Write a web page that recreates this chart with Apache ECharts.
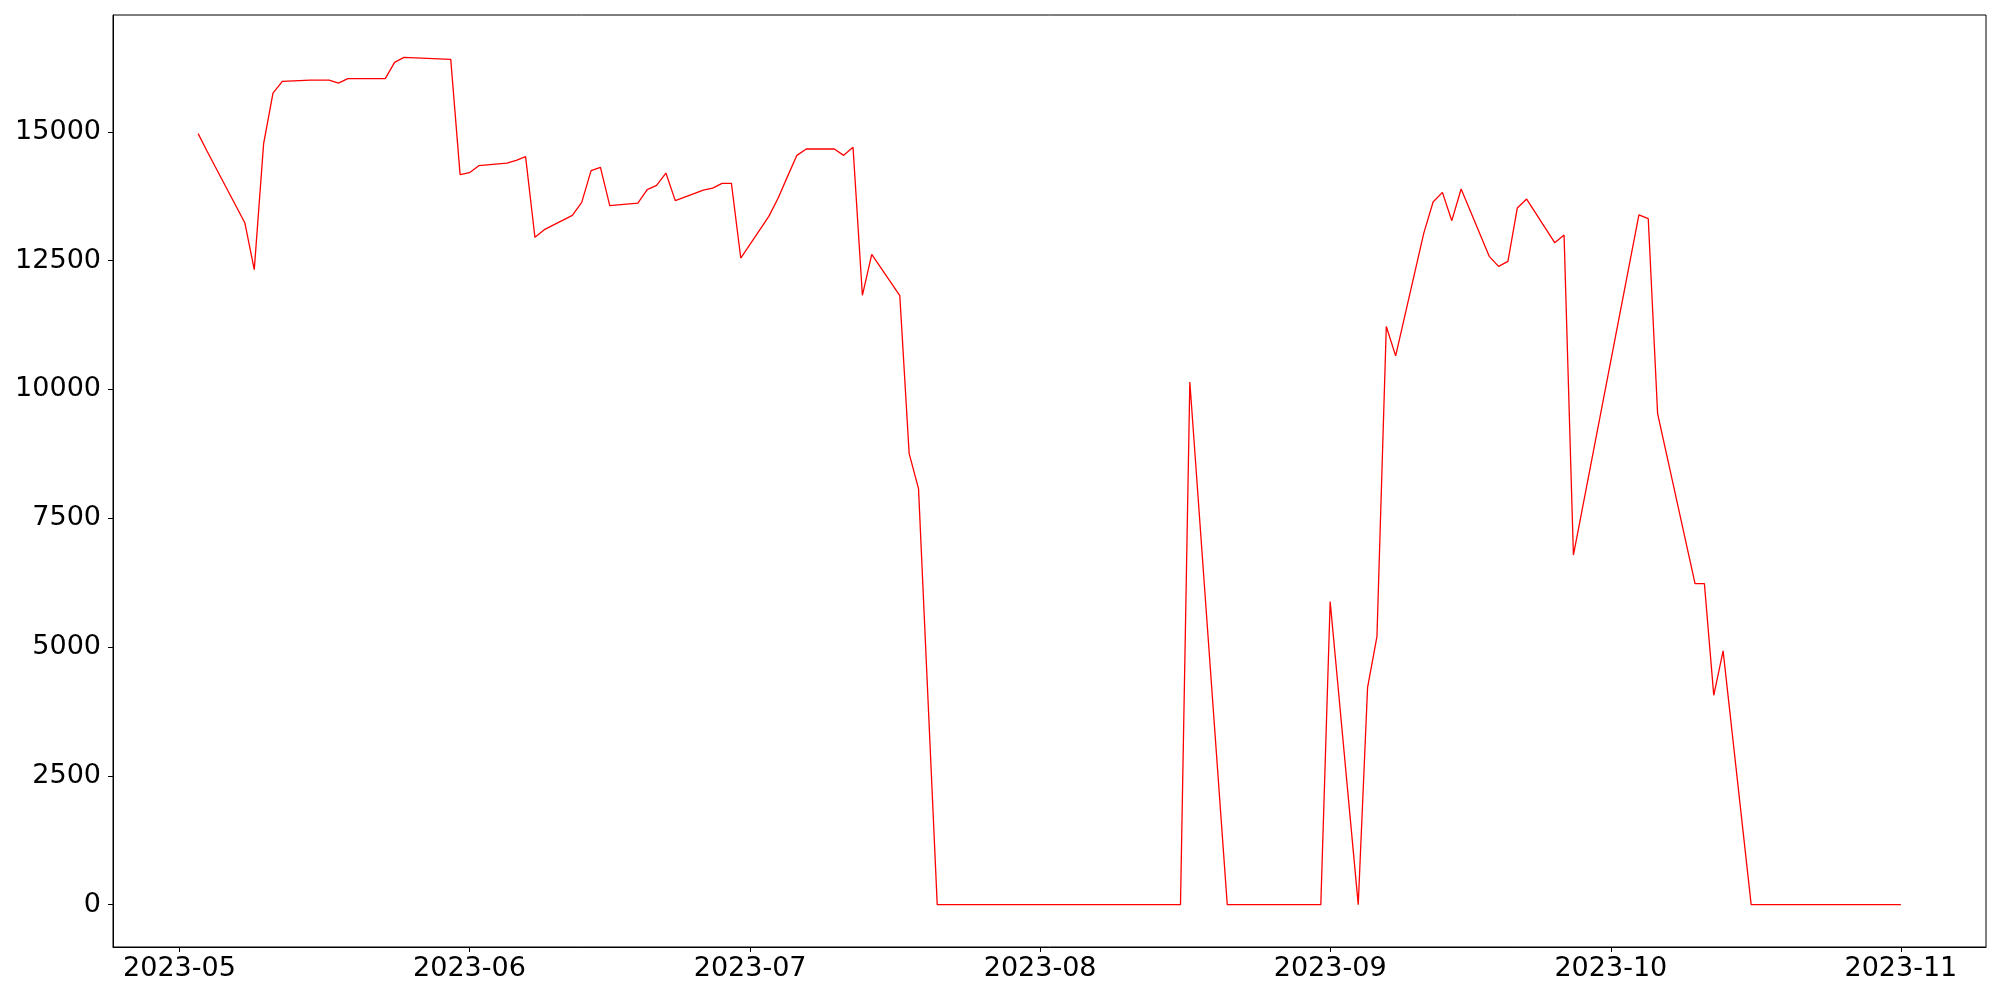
<!DOCTYPE html>
<html>
<head>
<meta charset="utf-8">
<script src="https://cdn.jsdelivr.net/npm/echarts@6/dist/echarts.min.js"></script>
<style>html,body{margin:0;padding:0;background:#fff;}#chart{width:2000px;height:1000px;}</style>
</head>
<body>
<div id="chart"></div>
<script>
const dates = [
'2023-05-03','2023-05-04','2023-05-08','2023-05-09','2023-05-10','2023-05-11','2023-05-12',
'2023-05-15','2023-05-16','2023-05-17','2023-05-18','2023-05-19','2023-05-22','2023-05-23','2023-05-24','2023-05-25',
'2023-05-30','2023-05-31','2023-06-01','2023-06-02','2023-06-05','2023-06-06','2023-06-07','2023-06-08','2023-06-09',
'2023-06-12','2023-06-13','2023-06-14','2023-06-15','2023-06-16','2023-06-19','2023-06-20','2023-06-21','2023-06-22','2023-06-23',
'2023-06-26','2023-06-27','2023-06-28','2023-06-29','2023-06-30','2023-07-03','2023-07-04','2023-07-05','2023-07-06','2023-07-07',
'2023-07-10','2023-07-11','2023-07-12','2023-07-13','2023-07-14','2023-07-17','2023-07-18','2023-07-19','2023-07-21',
'2023-07-24','2023-07-25','2023-07-26','2023-07-27','2023-07-28','2023-07-31','2023-08-01','2023-08-02','2023-08-03','2023-08-04',
'2023-08-07','2023-08-08','2023-08-09','2023-08-10','2023-08-11','2023-08-14','2023-08-15','2023-08-16','2023-08-17',
'2023-08-21','2023-08-22','2023-08-23','2023-08-24','2023-08-25','2023-08-28','2023-08-29','2023-08-30','2023-08-31',
'2023-09-01','2023-09-04','2023-09-05','2023-09-06','2023-09-07','2023-09-08','2023-09-11','2023-09-12','2023-09-13','2023-09-14','2023-09-15',
'2023-09-18','2023-09-19','2023-09-20','2023-09-21','2023-09-22','2023-09-25','2023-09-26','2023-09-27',
'2023-10-04','2023-10-05','2023-10-06','2023-10-10','2023-10-11','2023-10-12','2023-10-13',
'2023-10-16','2023-10-17','2023-10-18','2023-10-19','2023-10-20','2023-10-23','2023-10-24','2023-10-25','2023-10-26','2023-10-27',
'2023-10-30','2023-10-31','2023-11-01'
];
const values = [
14965,14608,13230,12325,14771,15753,15980,
16006,16006,16006,15947,16032,16032,16032,16349,16446,
16407,14169,14208,14344,14394,14447,14518,12952,13101,
13379,13631,14247,14311,13567,13618,13878,13962,14200,13665,
13870,13909,14000,14000,12551,13360,13716,14136,14544,14667,
14667,14544,14699,11827,12622,11821,8754,8075,0,
0,0,0,0,0,0,0,0,0,0,
0,0,0,0,0,0,0,0,10145,
0,0,0,0,0,0,0,0,0,
5883,0,4218,5202,11223,10652,13030,13638,13826,13276,13890,
12584,12390,12487,13521,13696,12849,12997,6785,
13390,13315,9530,6232,6232,4064,4926,
0,0,0,0,0,0,0,0,0,0,
0,0,0
];
const xTickLabels = ['2023-05','2023-06','2023-07','2023-08','2023-09','2023-10','2023-11'];
const yTickValues = [0,2500,5000,7500,10000,12500,15000];

function parseDay(s){const p=s.split('-').map(Number);return Date.UTC(p[0],p[1]-1,p[2]||1);}
const xTicks = xTickLabels.map(parseDay);
const first = parseDay(dates[0]), last = parseDay(dates[dates.length-1]);
const pad = (last-first)*0.05;
const ymax = Math.max(...values), ymin = Math.min(...values);
const ypad = (ymax-ymin)*0.05;

function fmtMonth(v){const d=new Date(v);return d.getUTCFullYear()+'-'+String(d.getUTCMonth()+1).padStart(2,'0');}

const font = {fontFamily:'DejaVu Sans', fontSize:27, color:'#000'};
const chart = echarts.init(document.getElementById('chart'), null, {renderer:'canvas'});
chart.setOption({
  animation:false,
  backgroundColor:'#fff',
  grid:{left:113, top:15, right:14, bottom:53, show:true, borderColor:'#000', borderWidth:1, outerBoundsMode:'none', containLabel:false},
  xAxis:{
    type:'value', min:first-pad, max:last+pad, scale:true,
    axisLine:{show:true, onZero:false, lineStyle:{color:'#000', width:1}},
    axisTick:{show:true, length:5, lineStyle:{color:'#000'}, customValues:xTicks},
    axisLabel:Object.assign({margin:8, customValues:xTicks, showMinLabel:true, showMaxLabel:true,
      formatter:function(v){return fmtMonth(v);}}, font),
    splitLine:{show:false}
  },
  yAxis:{
    type:'value', min:ymin-ypad, max:ymax+ypad,
    axisLine:{show:true, onZero:false, lineStyle:{color:'#000', width:1}},
    axisTick:{show:true, length:5, lineStyle:{color:'#000'}, customValues:yTickValues},
    axisLabel:Object.assign({margin:12, customValues:yTickValues, formatter:function(v){return String(v);}}, font),
    splitLine:{show:false}
  },
  series:[{
    type:'line', showSymbol:false, symbol:'none',
    data:dates.map((d,i)=>[parseDay(d), values[i]]),
    lineStyle:{color:'#ff0000', width:1.3},
    itemStyle:{color:'#ff0000'}
  }]
});
</script>
</body>
</html>
